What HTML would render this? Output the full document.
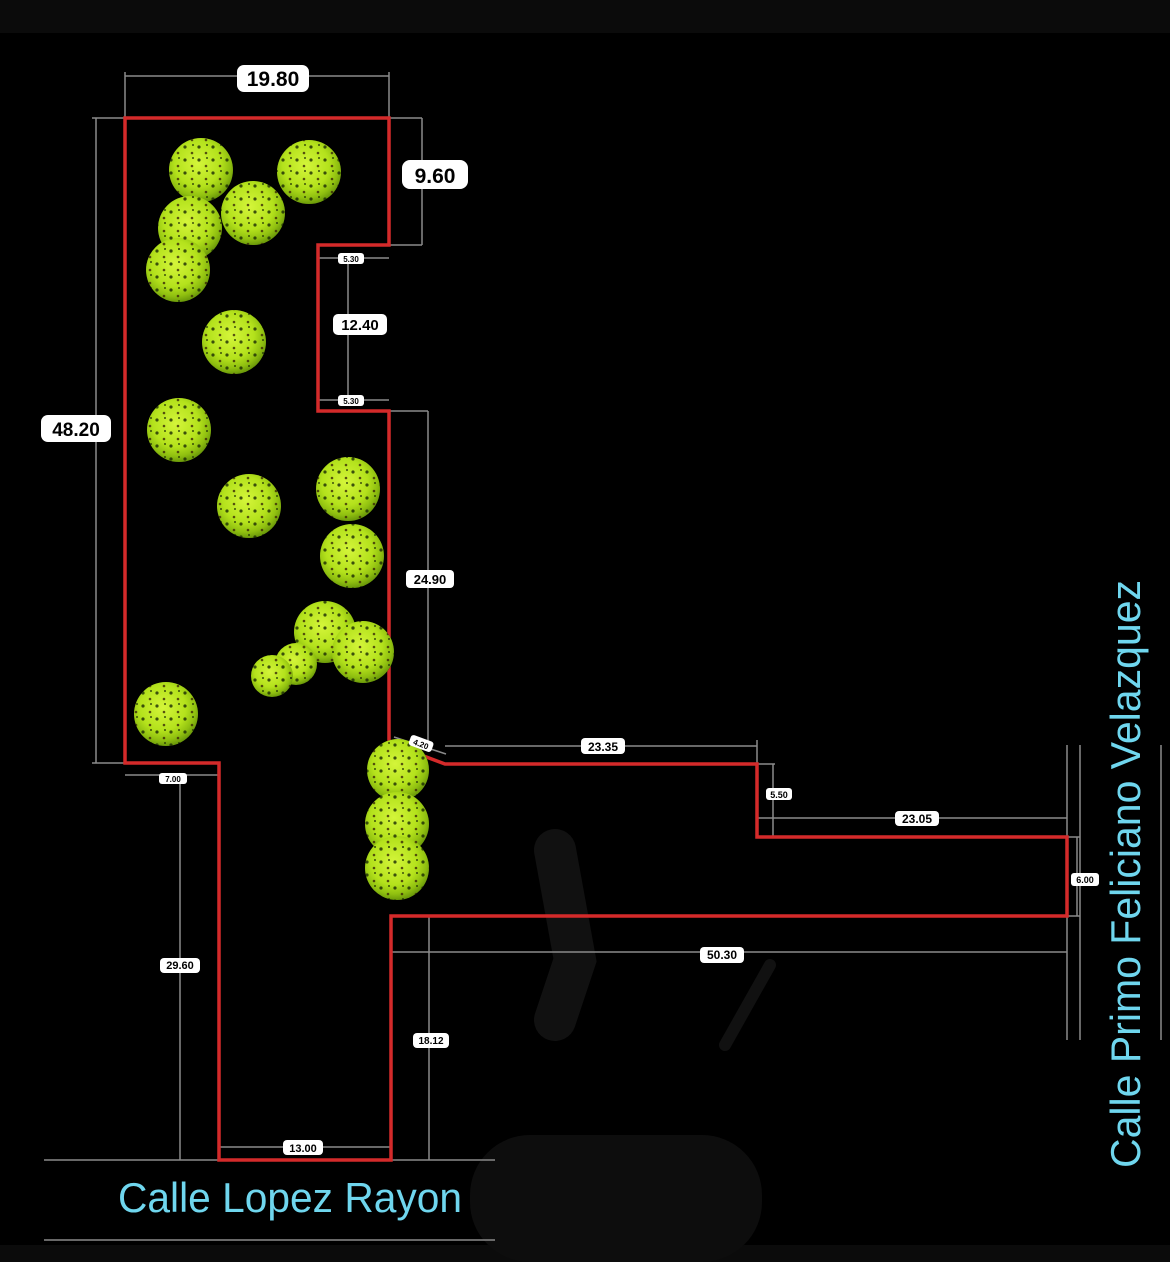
<!DOCTYPE html>
<html><head><meta charset="utf-8"><style>
html,body{margin:0;padding:0;background:#000;width:1170px;height:1262px;overflow:hidden}
svg{display:block}
.d{stroke:#8a8a8a;stroke-width:1.5;fill:none}
.lb rect{fill:#fff}
.lb text{font-family:"Liberation Sans",sans-serif;font-weight:bold;fill:#000;text-anchor:middle}
.st{font-family:"Liberation Sans",sans-serif;font-weight:normal;fill:#6fd6ee;text-anchor:start}
</style></head><body>
<svg width="1170" height="1262" viewBox="0 0 1170 1262">
<defs>
<radialGradient id="t" cx="45%" cy="40%" r="60%">
<stop offset="0" stop-color="#d4f53a"/><stop offset="0.6" stop-color="#b4e21c"/><stop offset="0.85" stop-color="#8fbf10"/><stop offset="1" stop-color="#6c9a0a"/>
</radialGradient>
<pattern id="sp" width="14" height="13" patternUnits="userSpaceOnUse">
<circle cx="3" cy="4" r="1.6" fill="#1a2a05"/><circle cx="10" cy="10" r="1.3" fill="#3a2a08"/><circle cx="11" cy="2" r="1" fill="#1a2a05"/>
</pattern>
</defs>
<rect x="0" y="0" width="1170" height="33" fill="#0b0b0b"/>
<rect x="0" y="1245" width="1170" height="17" fill="#0b0b0b"/>
<path d="M555 850 L575 960 L555 1020" stroke="#111" stroke-width="42" stroke-linecap="round" fill="none"/>
<path d="M770 965 L725 1045" stroke="#111" stroke-width="12" stroke-linecap="round"/>
<rect x="470" y="1135" width="292" height="127" rx="60" fill="#0d0d0d"/>
<g class="d">
<path d="M125 76 H389 M125 72 V118 M389 72 V118"/>
<path d="M92 118 H125 M92 763 H125 M96 118 V763"/>
<path d="M389 118 H422 M389 245 H422 M422 118 V245"/>
<path d="M318 258 H389 M318 400 H389 M348 258 V400"/>
<path d="M389 411 H428 M428 411 V743"/>
<path d="M394 737 L446 754"/>
<path d="M445 746 H757 M757 740 V764"/>
<path d="M757 764 H775 M773 764 V837 M757 818 H1067"/>
<path d="M1067 837 H1080 M1067 916 H1080 M1077 837 V916"/>
<path d="M1067 745 V1040 M1080 745 V1040 M1161 745 V1040"/>
<path d="M391 952 H1067 M429 916 V1160"/>
<path d="M125 775 H219 M180 775 V1160"/>
<path d="M219 1147 H391"/>
<path d="M44 1160 H495 M44 1240 H495"/>
</g>
<path d="M125 118 H389 V245 H318 V411 H389 V743 L445 764 H757 V837 H1067 V916 H391 V1160 H219 V763 H125 Z" fill="none" stroke="#d42a2a" stroke-width="3.5"/>
<g id="tr">
<circle cx="201" cy="170" r="32"/><circle cx="309" cy="172" r="32"/><circle cx="190" cy="228" r="32"/><circle cx="253" cy="213" r="32"/><circle cx="178" cy="270" r="32"/><circle cx="234" cy="342" r="32"/><circle cx="179" cy="430" r="32"/><circle cx="249" cy="506" r="32"/><circle cx="348" cy="489" r="32"/><circle cx="352" cy="556" r="32"/><circle cx="325" cy="632" r="31"/><circle cx="363" cy="652" r="31"/><circle cx="296" cy="664" r="21"/><circle cx="272" cy="676" r="21"/><circle cx="166" cy="714" r="32"/><circle cx="398" cy="770" r="31"/><circle cx="397" cy="824" r="32"/><circle cx="397" cy="868" r="32"/>
</g>
<use href="#tr" fill="url(#t)"/>
<use href="#tr" fill="url(#sp)" opacity="0.8"/>
<g class="lb">
<rect x="237" y="65" width="72" height="27" rx="7"/><text x="273" y="86" font-size="21">19.80</text>
<rect x="402" y="160" width="66" height="29" rx="8"/><text x="435" y="183" font-size="21">9.60</text>
<rect x="41" y="415" width="70" height="27" rx="7"/><text x="76" y="436" font-size="19">48.20</text>
<rect x="338" y="253" width="26" height="11" rx="3"/><text x="351" y="262" font-size="8">5.30</text>
<rect x="333" y="314" width="54" height="21" rx="5"/><text x="360" y="330" font-size="15">12.40</text>
<rect x="338" y="395" width="26" height="11" rx="3"/><text x="351" y="404" font-size="8">5.30</text>
<rect x="406" y="570" width="48" height="18" rx="4"/><text x="430" y="584" font-size="13">24.90</text>
<g transform="rotate(20 421 744)"><rect x="409" y="738" width="24" height="11" rx="3"/><text x="421" y="747" font-size="8">4.20</text></g>
<rect x="581" y="738" width="44" height="16" rx="4"/><text x="603" y="751" font-size="12">23.35</text>
<rect x="766" y="788" width="26" height="12" rx="3"/><text x="779" y="798" font-size="9">5.50</text>
<rect x="895" y="811" width="44" height="15" rx="4"/><text x="917" y="823" font-size="12">23.05</text>
<rect x="1071" y="873" width="28" height="13" rx="3"/><text x="1085" y="883" font-size="9">6.00</text>
<rect x="700" y="947" width="44" height="16" rx="4"/><text x="722" y="959" font-size="12">50.30</text>
<rect x="159" y="773" width="28" height="11" rx="3"/><text x="173" y="782" font-size="8">7.00</text>
<rect x="160" y="958" width="40" height="15" rx="4"/><text x="180" y="969" font-size="11">29.60</text>
<rect x="413" y="1033" width="36" height="15" rx="4"/><text x="431" y="1044" font-size="10">18.12</text>
<rect x="283" y="1140" width="40" height="15" rx="4"/><text x="303" y="1152" font-size="11">13.00</text>
</g>
<text class="st" x="118" y="1212" font-size="42" textLength="344" lengthAdjust="spacingAndGlyphs">Calle Lopez Rayon</text>
<text class="st" transform="translate(1140 1168) rotate(-90)" x="0" y="0" font-size="42" textLength="588" lengthAdjust="spacingAndGlyphs">Calle Primo Feliciano Velazquez</text>
</svg>
</body></html>
